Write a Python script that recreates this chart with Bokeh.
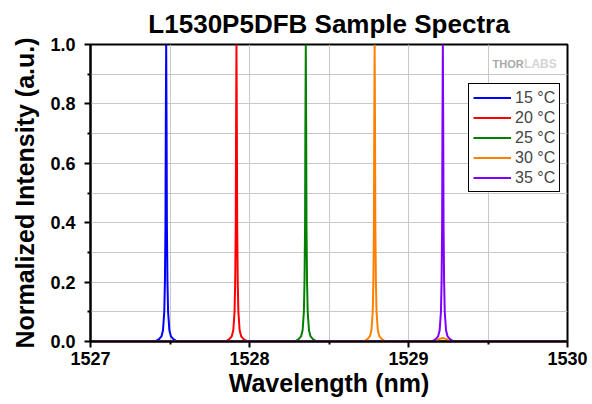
from bokeh.plotting import figure
from bokeh.models import Range1d, FixedTicker, Legend, LegendItem, Label, NumeralTickFormatter
from bokeh.embed import file_html
from bokeh.resources import INLINE

FONT = "Liberation Sans"

# ---- data ----
series_labels = ["15 °C", "20 °C", "25 °C", "30 °C", "35 °C"]
series_colors = ["#0000ff", "#ff0000", "#008000", "#ff8000", "#8000ff"]

wl_15 = [1527.0, 1527.406, 1527.431, 1527.446, 1527.456, 1527.464, 1527.468, 1527.4715, 1527.4735,
         1527.476, 1527.4785, 1527.4805, 1527.484, 1527.488, 1527.496, 1527.506, 1527.521, 1527.546, 1530.0]
int_15 = [0, 0, 0.008, 0.017, 0.038, 0.1, 0.2, 0.39, 0.72, 1.0, 0.72, 0.39, 0.2, 0.1, 0.038, 0.017, 0.008, 0, 0]

wl_20 = [1527.0, 1527.848, 1527.873, 1527.888, 1527.898, 1527.906, 1527.910, 1527.9135, 1527.9155,
         1527.918, 1527.9205, 1527.9225, 1527.926, 1527.930, 1527.938, 1527.948, 1527.963, 1527.988, 1530.0]
int_20 = [0, 0, 0.008, 0.017, 0.038, 0.1, 0.2, 0.39, 0.72, 1.0, 0.72, 0.39, 0.2, 0.1, 0.038, 0.017, 0.008, 0, 0]

wl_25 = [1527.0, 1528.284, 1528.309, 1528.324, 1528.334, 1528.342, 1528.346, 1528.3495, 1528.3515,
         1528.354, 1528.3565, 1528.3585, 1528.362, 1528.366, 1528.374, 1528.384, 1528.399, 1528.424, 1530.0]
int_25 = [0, 0, 0.008, 0.017, 0.038, 0.1, 0.2, 0.39, 0.72, 1.0, 0.72, 0.39, 0.2, 0.1, 0.038, 0.017, 0.008, 0, 0]

wl_30 = [1527.0, 1528.717, 1528.742, 1528.757, 1528.767, 1528.775, 1528.779, 1528.7825, 1528.7845,
         1528.787, 1528.7895, 1528.7915, 1528.795, 1528.799, 1528.807, 1528.817, 1528.832, 1528.857,
         1529.170, 1529.190, 1529.215, 1529.240, 1529.260, 1530.0]
int_30 = [0, 0, 0.008, 0.017, 0.038, 0.1, 0.2, 0.39, 0.72, 1.0, 0.72, 0.39, 0.2, 0.1, 0.038, 0.017, 0.008, 0,
          0, 0.008, 0.012, 0.008, 0, 0]

wl_35 = [1527.0, 1529.146, 1529.171, 1529.186, 1529.196, 1529.204, 1529.208, 1529.2115, 1529.2135,
         1529.216, 1529.2185, 1529.2205, 1529.224, 1529.228, 1529.236, 1529.246, 1529.261, 1529.286, 1530.0]
int_35 = [0, 0, 0.008, 0.017, 0.038, 0.1, 0.2, 0.39, 0.72, 1.0, 0.72, 0.39, 0.2, 0.1, 0.038, 0.017, 0.008, 0, 0]

x_major = [1527, 1528, 1529, 1530]
x_minor = [1527.5, 1528.5, 1529.5]
y_major = [0.0, 0.2, 0.4, 0.6, 0.8, 1.0]
y_minor = [0.1, 0.3, 0.5, 0.7, 0.9]

# ---- figure ----
p = figure(width=592, height=404, output_backend="svg", toolbar_location=None,
           x_range=Range1d(1527, 1530), y_range=Range1d(0, 1.0),
           min_border_left=90, min_border_right=25, min_border_top=43, min_border_bottom=63)

p.title.text = "L1530P5DFB Sample Spectra"
p.title.align = "center"
p.title.text_font = FONT
p.title.text_font_size = "26px"
p.title.text_font_style = "bold"
p.title.text_color = "black"
p.title.offset = 0
p.title.standoff = 12

p.outline_line_color = "black"
p.outline_line_width = 2
p.outline_line_alpha = 1

for ax in (p.xaxis[0], p.yaxis[0]):
    ax.axis_line_width = 2
    ax.axis_line_color = "black"
    ax.major_tick_line_width = 2
    ax.minor_tick_line_width = 2
    ax.major_tick_in = 0
    ax.major_tick_out = 6
    ax.minor_tick_in = 0
    ax.minor_tick_out = 3
    ax.major_label_text_font = FONT
    ax.major_label_text_font_size = "18px"
    ax.major_label_text_font_style = "bold"
    ax.major_label_text_color = "black"
    ax.axis_label_text_font = FONT
    ax.axis_label_text_font_size = "25px"
    ax.axis_label_text_font_style = "bold"
    ax.axis_label_text_color = "black"

p.xaxis.ticker = FixedTicker(ticks=x_major, minor_ticks=x_minor)
p.yaxis.ticker = FixedTicker(ticks=y_major, minor_ticks=y_minor)
p.yaxis.formatter = NumeralTickFormatter(format="0.0")
p.xaxis.axis_label = "Wavelength (nm)"
p.yaxis.axis_label = "Normalized Intensity (a.u.)"
p.xaxis.major_label_standoff = 4
p.yaxis.major_label_standoff = 9
p.xaxis.axis_label_standoff = 1
p.yaxis.axis_label_standoff = 8

p.xgrid.ticker = FixedTicker(ticks=sorted(x_major + x_minor))
p.ygrid.ticker = FixedTicker(ticks=sorted(y_major + y_minor))
for g in (p.xgrid[0], p.ygrid[0]):
    g.grid_line_color = "#c8c8c8"
    g.grid_line_width = 1

# THORLABS mark
p.add_layout(Label(x=1529.529, y=0.936, text="THOR", text_font=FONT,
                   text_font_size="11px", text_font_style="bold", text_color="#a8a8a8",
                   text_baseline="alphabetic"))
p.add_layout(Label(x=1529.727, y=0.936, text="LABS", text_font=FONT, text_font_size="12px",
                   text_font_style="bold", text_color="#d4d4d4", text_baseline="alphabetic"))

xs = [wl_15, wl_20, wl_25, wl_30, wl_35]
ys = [int_15, int_20, int_25, int_30, int_35]
items = []
for x, y, c, lab in zip(xs, ys, series_colors, series_labels):
    r = p.line(x, y, line_color=c, line_width=2)
    items.append(LegendItem(label=lab, renderers=[r]))

legend = Legend(items=items, location=(378, 149), orientation="vertical",
                glyph_width=38, glyph_height=19, label_height=19, spacing=1, padding=4,
                margin=0, label_standoff=4, label_text_font=FONT, label_text_font_size="16px",
                border_line_color="black", border_line_width=1, border_line_alpha=1,
                background_fill_color="white", background_fill_alpha=1)
p.add_layout(legend)

open("out.html", "w").write(file_html(p, INLINE))
